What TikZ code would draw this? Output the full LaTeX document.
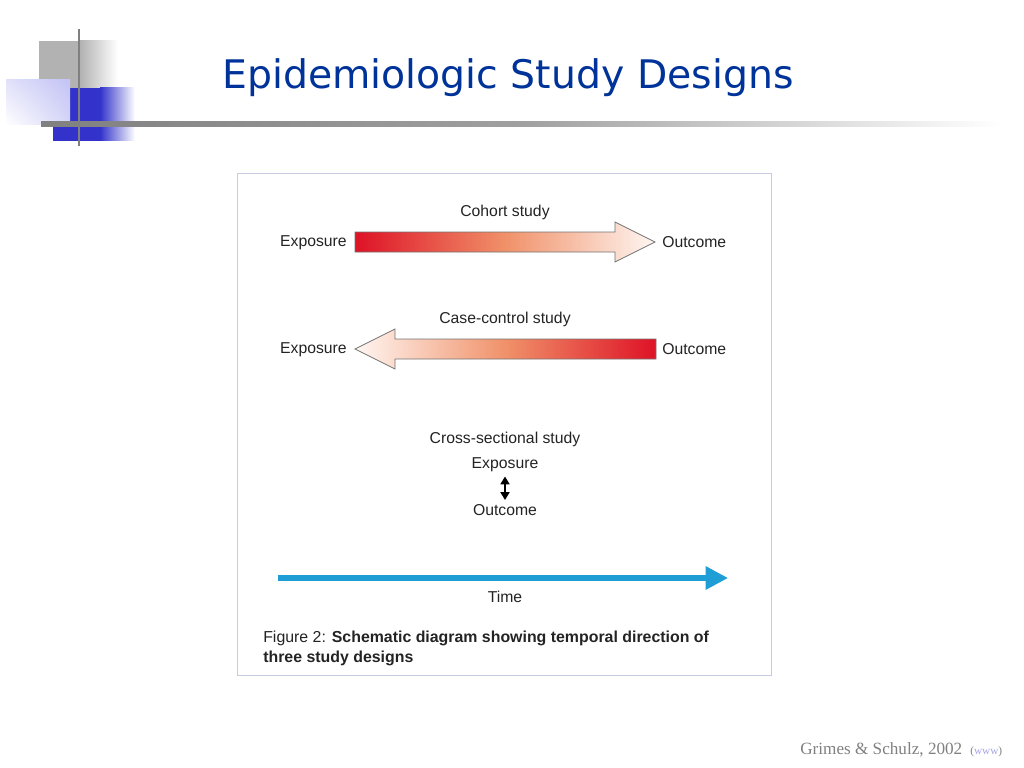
\documentclass[tikz,border=0pt]{standalone}
\usepackage{fontspec}
\setmainfont{Liberation Sans}
\newfontfamily\titlefont{DejaVu Sans}
\newfontfamily\reffont{Liberation Serif}
\usetikzlibrary{arrows.meta,shadings}
\definecolor{titleblue}{RGB}{0,51,153}
\definecolor{deco gray}{RGB}{178,178,178}
\definecolor{deco blue}{RGB}{51,51,204}
\definecolor{deco lavender}{RGB}{195,195,245}
\definecolor{rule gray}{RGB}{128,128,128}
\definecolor{frame gray}{RGB}{200,202,225}
\definecolor{arrow red}{RGB}{222,18,38}
\definecolor{arrow salmon}{RGB}{240,145,105}
\definecolor{arrow pale}{RGB}{255,246,242}
\definecolor{time blue}{RGB}{30,158,212}
\definecolor{text dark}{RGB}{35,35,35}

\begin{document}
\begin{tikzpicture}[x=0.025cm,y=-0.025cm,
	label/.style={font=\fontsize{11.2}{13}\selectfont, text=text dark, inner sep=0pt},
	bigarrow/.style={draw=black!55, line width=0.5pt}]
	\useasboundingbox (0,0) rectangle (1024,768);

	% header decoration
	\fill[deco gray] (39,41) rectangle (80,88);
	\shade[left color=deco gray, right color=white] (80,41) rectangle (118,88);
	\fill[deco blue] (53,88) rectangle (100,141);
	\shade[left color=deco blue, right color=white] (100,88) rectangle (135,141);
	\shade[upper left=deco lavender!50, upper right=deco lavender, lower left=white, lower right=deco lavender!70] (6,80) rectangle (70,125);
	\shade[left color=rule gray, right color=white, middle color=rule gray!75] (41,121.5) rectangle (1000,126.5);
	\draw[rule gray, line width=2pt] (79,29) -- (79,146);

	% title
	\node[anchor=base west, inner sep=0pt, text=titleblue, font=\titlefont\fontsize{28}{32}\selectfont] (title) at (222,89) {Epidemiologic Study Designs};

	% figure frame
	\draw[frame gray, line width=0.6pt] (237,173) rectangle (771,675);

	% cohort study
	\coordinate (c1) at (355,232);
	\coordinate (c2) at (615,232);
	\coordinate (c3) at (615,222);
	\coordinate (c4) at (655,242);
	\coordinate (c5) at (615,262);
	\coordinate (c6) at (615,252);
	\coordinate (c7) at (355,252);
	\path[bigarrow, left color=arrow red, right color=arrow pale, middle color=arrow salmon]
		(c1) -- (c2) -- (c3) -- (c4) -- (c5) -- (c6) -- (c7) -- cycle;
	\node[label] (cohort) at (505,212) {Cohort study};
	\node[label, anchor=east] (cexpo) at (347,243) {Exposure};
	\node[label, anchor=west] (coutc) at (662,242) {Outcome};

	% case-control study
	\coordinate (k1) at (656,339);
	\coordinate (k2) at (395,339);
	\coordinate (k3) at (395,329);
	\coordinate (k4) at (355,349);
	\coordinate (k5) at (395,369);
	\coordinate (k6) at (395,359);
	\coordinate (k7) at (656,359);
	\path[bigarrow, left color=arrow pale, right color=arrow red, middle color=arrow salmon]
		(k1) -- (k2) -- (k3) -- (k4) -- (k5) -- (k6) -- (k7) -- cycle;
	\node[label] (casecontrol) at (505,319) {Case-control study};
	\node[label, anchor=east] (kexpo) at (347,350) {Exposure};
	\node[label, anchor=west] (koutc) at (662,349) {Outcome};

	% cross-sectional study
	\node[label] (cross) at (505,439) {Cross-sectional study};
	\node[label] (xexpo) at (505,465) {Exposure};
	\node[label] (xoutc) at (505,510) {Outcome};
	\draw[black, line width=0.9pt, {Triangle[length=5.5pt,width=6.5pt]}-{Triangle[length=5.5pt,width=6.5pt]}]
		([yshift=-3pt]xexpo.south) -- ([yshift=3pt]xoutc.north);

	% time axis
	\coordinate (t0) at (278,578);
	\coordinate (t1) at (728,578);
	\draw[time blue, line width=3.6pt, -{Triangle[length=16pt,width=16pt]}] (t0) -- (t1);
	\node[label] (time) at (505,597) {Time};

	% caption
	\node[anchor=base west, inner sep=0pt, align=left, text=text dark, font=\fontsize{11.3}{14.2}\selectfont] (caption) at (263,662)
		{Figure 2: \textbf{Schematic diagram showing temporal direction of}\\\textbf{three study designs}};

	% reference
	\node[anchor=base west, inner sep=0pt, text=rule gray, font=\reffont\fontsize{12.2}{14}\selectfont] (ref) at (800,754) {Grimes \& Schulz, 2002};
	\node[anchor=base west, inner sep=0pt, font=\reffont\fontsize{8}{10}\selectfont] (www) at (970,754) {\textcolor{rule gray}{(}\textcolor{deco blue!45}{www}\textcolor{rule gray}{)}};
\end{tikzpicture}
\end{document}
